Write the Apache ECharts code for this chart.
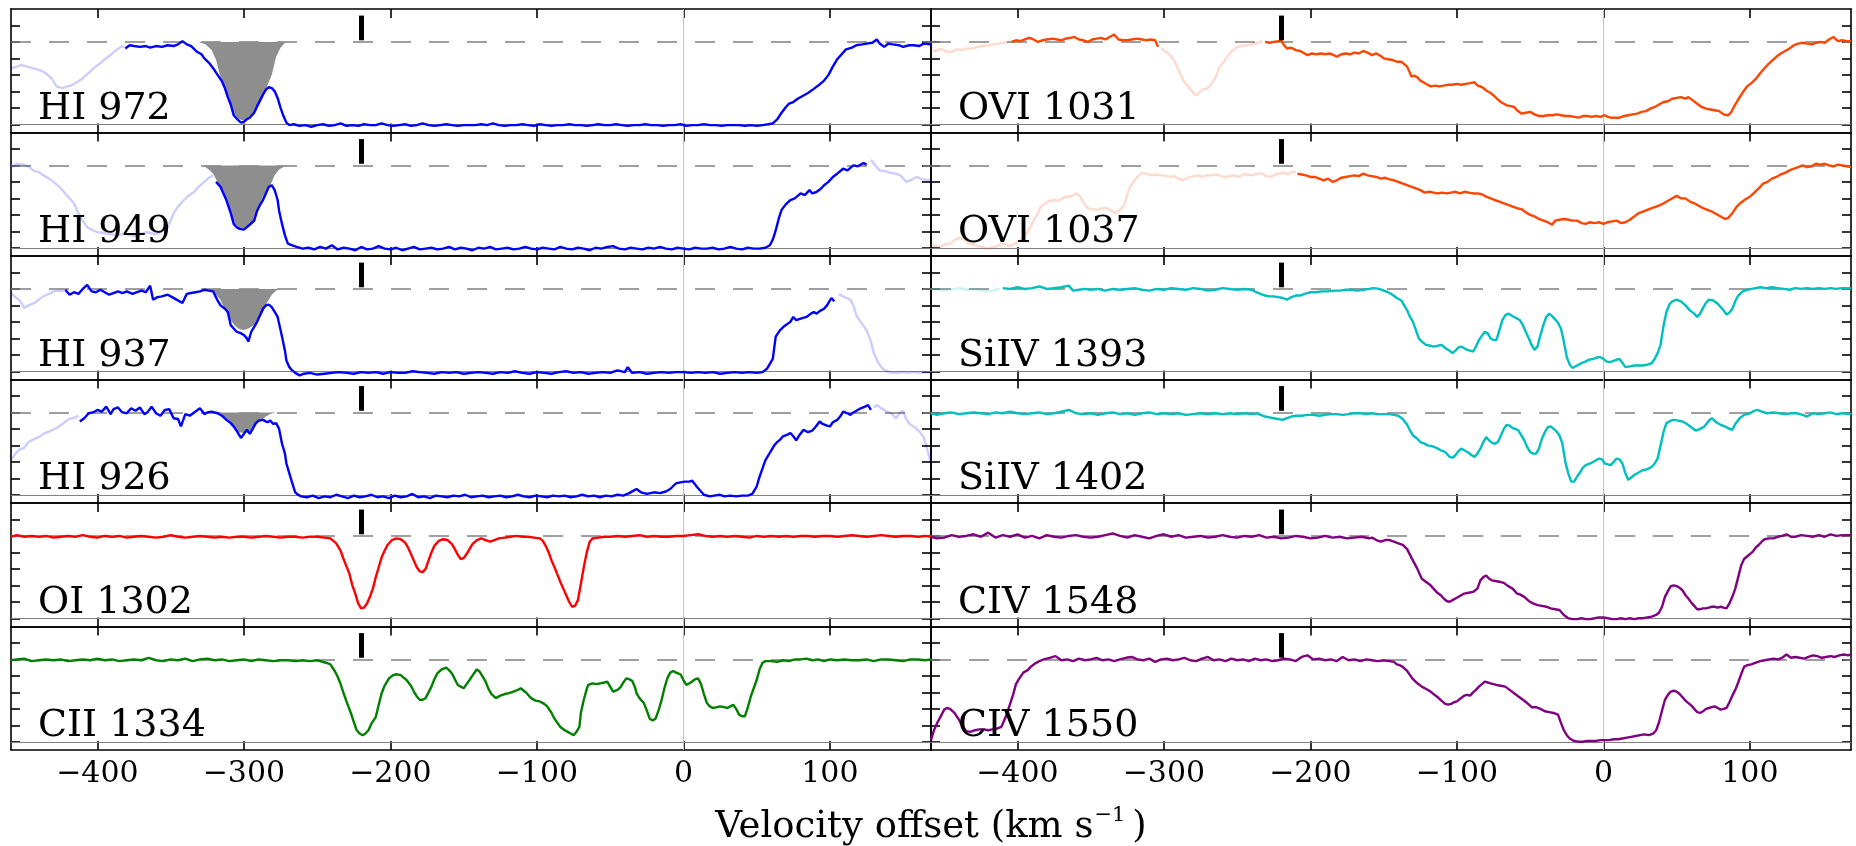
<!DOCTYPE html>
<html><head><meta charset="utf-8">
<script src="https://cdn.jsdelivr.net/npm/echarts@6/dist/echarts.min.js"></script>
<style>html,body{margin:0;padding:0;background:#fff}#c{width:1856px;height:846px}</style>
</head><body><div id="c"></div>
<script>
// ---------------- axis ranges & ticks ----------------
const XMIN = -459, XMAX = 169, YMIN = -0.1, YMAX = 1.4;
const XTICKS = [-400, -300, -200, -100, 0, 100];
const YTICKS = [0, 0.2, 0.4, 0.6, 0.8, 1.0, 1.2];
const MARKER_V = -220, MARKER_Y = [1.02, 1.32];
const XTITLE = ['Velocity offset (km s', '\u22121', ')'];
const LABELS = ['HI 972','HI 949','HI 937','HI 926','OI 1302','CII 1334','OVI 1031','OVI 1037','SiIV 1393','SiIV 1402','CIV 1548','CIV 1550'];

// ---------------- HI 972 ----------------
const HI972_F1 = [[-459,0.68],[-455,0.70],[-452,0.72],[-448,0.70],[-444,0.68],[-440,0.66],[-437,0.64],[-434,0.60],[-431,0.55],[-428,0.46],[-424,0.44],[-421,0.46],[-418,0.47],[-414,0.51],[-410,0.56],[-405,0.64],[-402,0.69],[-398,0.74],[-395,0.79],[-391,0.84],[-388,0.89],[-384,0.94],[-382,0.95]];
const HI972_S1 = [[-381,0.92],[-378,0.96],[-375,0.95],[-371,0.94],[-367,0.95],[-364,0.93],[-360,0.95],[-356,0.94],[-352,0.96],[-348,0.95],[-345,0.97],[-342,1.01],[-339,0.97],[-336,0.95],[-332,0.88],[-329,0.85],[-327,0.80],[-324,0.75],[-321,0.68],[-318,0.60],[-315,0.52],[-313,0.44],[-311,0.33],[-309,0.24],[-307,0.11],[-305,0.07],[-302,0.02],[-300,0.03],[-298,0.06],[-296,0.08],[-293,0.14],[-291,0.22],[-289,0.29],[-287,0.36],[-285,0.42],[-283,0.45],[-281,0.44],[-279,0.40],[-277,0.32],[-275,0.20],[-273,0.10],[-271,0.02],[-269,-0.01],[-266,0.00],[-262,-0.02],[-258,-0.01],[-254,-0.03],[-250,-0.01],[-246,0.00],[-242,-0.02],[-238,-0.01],[-234,0.01],[-230,-0.02],[-226,-0.01],[-222,-0.02],[-218,0.00],[-214,-0.01],[-210,-0.01],[-206,0.01],[-202,-0.01],[-198,-0.02],[-194,-0.01],[-190,0.00],[-186,-0.02],[-182,-0.01],[-178,0.01],[-174,-0.01],[-170,-0.02],[-166,-0.01],[-162,0.00],[-158,-0.01],[-154,-0.02],[-150,-0.01],[-146,-0.01],[-142,-0.01],[-138,0.00],[-134,-0.01],[-130,0.01],[-126,-0.01],[-122,-0.02],[-118,-0.01],[-114,-0.01],[-110,0.00],[-106,-0.01],[-102,-0.02],[-98,0.00],[-94,-0.01],[-90,-0.02],[-86,-0.01],[-82,-0.01],[-78,0.00],[-74,-0.01],[-70,-0.01],[-66,-0.02],[-62,-0.01],[-58,0.00],[-54,-0.01],[-50,-0.01],[-46,0.00],[-42,-0.01],[-38,-0.02],[-34,-0.01],[-30,-0.01],[-26,0.00],[-22,-0.01],[-18,-0.01],[-14,-0.02],[-10,-0.01],[-6,-0.01],[-2,0.00],[2,-0.02],[6,-0.01],[10,-0.01],[14,0.00],[18,-0.01],[22,-0.01],[26,-0.02],[30,-0.01],[34,-0.01],[38,-0.01],[42,-0.02],[46,-0.01],[50,-0.02],[54,-0.01],[58,0.00],[61,0.01],[64,0.06],[67,0.14],[70,0.21],[72,0.25],[75,0.27],[78,0.31],[82,0.35],[85,0.38],[89,0.43],[92,0.47],[96,0.53],[99,0.60],[102,0.70],[105,0.79],[108,0.85],[111,0.91],[115,0.93],[118,0.96],[122,0.97],[125,0.98],[129,0.99],[132,1.03],[134,0.98],[137,0.94],[140,0.98],[143,0.97],[147,0.96],[150,0.94],[154,0.96],[157,0.96],[161,0.95],[164,0.98],[169,0.97]];
const HI972_FILL = [[-331,1.0],[-326,0.97],[-322,0.90],[-319,0.78],[-316,0.57],[-313,0.40],[-310,0.25],[-307,0.13],[-304,0.07],[-300,0.04],[-297,0.06],[-294,0.10],[-290,0.22],[-287,0.33],[-284,0.47],[-281,0.60],[-278,0.82],[-275,0.93],[-272,0.99],[-270,1.0]];

// ---------------- HI 949 ----------------
const HI949_F1 = [[-459,0.98],[-455,1.02],[-451,1.01],[-447,0.99],[-444,0.94],[-440,0.92],[-437,0.88],[-433,0.84],[-430,0.80],[-426,0.74],[-423,0.68],[-420,0.62],[-416,0.54],[-412,0.38],[-409,0.30],[-407,0.25],[-403,0.21],[-400,0.19],[-396,0.18],[-393,0.17],[-389,0.16],[-386,0.15],[-382,0.17],[-379,0.16],[-375,0.14],[-372,0.15],[-369,0.18],[-366,0.19],[-362,0.17],[-359,0.17],[-355,0.21],[-352,0.25],[-348,0.42],[-345,0.50],[-341,0.58],[-338,0.63],[-334,0.68],[-331,0.74],[-327,0.80],[-324,0.85],[-321,0.88]];
const HI949_S1 = [[-319,0.80],[-316,0.74],[-314,0.66],[-312,0.58],[-309,0.42],[-307,0.29],[-305,0.25],[-303,0.23],[-300,0.22],[-298,0.25],[-296,0.28],[-293,0.33],[-291,0.45],[-289,0.52],[-287,0.58],[-285,0.66],[-283,0.74],[-281,0.76],[-279,0.70],[-277,0.58],[-276,0.45],[-274,0.29],[-272,0.15],[-270,0.05],[-267,0.03],[-264,0.01],[-260,-0.01],[-256,0.00],[-252,-0.02],[-248,0.01],[-244,-0.01],[-240,0.03],[-236,-0.02],[-232,0.00],[-228,-0.01],[-224,-0.03],[-220,0.01],[-216,-0.02],[-212,-0.01],[-208,0.02],[-204,-0.01],[-200,-0.02],[-196,0.00],[-192,-0.03],[-188,-0.01],[-184,0.01],[-180,-0.02],[-176,-0.01],[-172,0.00],[-168,-0.02],[-164,-0.01],[-160,0.01],[-156,-0.02],[-152,0.00],[-148,-0.01],[-144,-0.03],[-140,0.00],[-136,-0.01],[-132,0.01],[-128,-0.02],[-124,-0.01],[-120,0.00],[-116,-0.02],[-112,-0.01],[-108,0.01],[-104,-0.01],[-100,-0.02],[-96,0.00],[-92,-0.01],[-88,-0.02],[-84,0.01],[-80,-0.01],[-76,-0.02],[-72,0.00],[-68,-0.01],[-64,-0.03],[-60,0.00],[-56,-0.01],[-52,0.01],[-48,0.02],[-44,-0.01],[-40,-0.02],[-36,0.00],[-32,-0.01],[-28,-0.02],[-24,0.00],[-20,-0.01],[-16,0.01],[-12,-0.01],[-8,-0.02],[-4,0.00],[0,-0.01],[4,-0.02],[8,0.00],[12,-0.01],[16,-0.01],[20,0.00],[24,-0.02],[28,-0.01],[32,0.01],[36,-0.01],[40,-0.02],[44,0.00],[48,-0.01],[52,-0.01],[56,0.00],[59,0.03],[61,0.10],[63,0.21],[65,0.35],[67,0.46],[70,0.53],[73,0.58],[76,0.60],[80,0.66],[83,0.64],[86,0.70],[88,0.66],[91,0.68],[94,0.72],[96,0.76],[99,0.80],[102,0.86],[105,0.90],[109,0.96],[112,0.94],[116,1.00],[119,0.99],[123,1.03],[125,1.01]];
const HI949_F2 = [[128,1.07],[131,1.00],[134,0.94],[138,0.93],[141,0.91],[145,0.90],[148,0.88],[152,0.80],[155,0.82],[159,0.86],[162,0.84],[166,0.82],[169,0.83]];
const HI949_FILL = [[-328,1.0],[-324,0.95],[-321,0.90],[-318,0.80],[-316,0.74],[-313,0.62],[-311,0.50],[-308,0.38],[-306,0.29],[-303,0.24],[-300,0.23],[-297,0.26],[-294,0.29],[-291,0.40],[-290,0.50],[-287,0.62],[-284,0.70],[-281,0.80],[-279,0.88],[-276,0.95],[-273,0.98],[-271,1.0]];

// ---------------- HI 937 ----------------
const HI937_F1 = [[-459,0.95],[-456,0.90],[-453,0.86],[-450,0.77],[-447,0.80],[-443,0.83],[-440,0.87],[-437,0.91],[-434,0.93],[-430,0.97],[-426,0.98],[-423,0.97]];
const HI937_S1 = [[-422,0.99],[-419,0.93],[-416,0.96],[-413,0.94],[-410,1.00],[-407,1.05],[-404,0.97],[-401,0.96],[-398,0.99],[-395,0.96],[-392,0.93],[-389,0.95],[-386,0.97],[-383,0.95],[-380,0.97],[-376,0.94],[-373,0.96],[-370,0.98],[-367,0.96],[-364,1.04],[-362,0.87],[-359,0.90],[-356,0.91],[-352,0.93],[-349,0.90],[-346,0.87],[-342,0.83],[-339,0.94],[-336,0.95],[-333,0.96],[-330,0.97],[-327,0.99],[-324,0.98],[-321,0.97],[-318,0.86],[-316,0.80],[-313,0.76],[-311,0.72],[-309,0.56],[-307,0.52],[-305,0.48],[-302,0.46],[-300,0.44],[-298,0.40],[-297,0.36],[-295,0.48],[-293,0.54],[-291,0.60],[-289,0.68],[-287,0.76],[-285,0.80],[-283,0.81],[-281,0.78],[-279,0.72],[-277,0.66],[-275,0.50],[-274,0.42],[-272,0.25],[-271,0.13],[-269,0.05],[-267,0.01],[-265,-0.02],[-262,-0.05],[-259,-0.03],[-255,-0.02],[-250,-0.04],[-245,-0.03],[-240,-0.02],[-235,-0.01],[-230,-0.02],[-225,-0.03],[-220,-0.01],[-215,-0.02],[-210,-0.01],[-205,-0.03],[-200,-0.01],[-195,-0.02],[-190,-0.02],[-185,0.00],[-180,-0.01],[-175,-0.02],[-170,-0.03],[-165,-0.01],[-160,-0.02],[-155,-0.01],[-150,-0.03],[-145,-0.02],[-140,-0.01],[-135,-0.02],[-130,-0.03],[-125,-0.01],[-120,-0.02],[-115,0.00],[-110,-0.02],[-105,-0.03],[-100,-0.01],[-95,-0.02],[-90,-0.03],[-85,-0.01],[-80,0.00],[-75,-0.02],[-70,-0.01],[-65,-0.03],[-60,-0.02],[-55,-0.01],[-50,-0.02],[-45,0.01],[-40,-0.01],[-38,0.05],[-35,-0.02],[-30,-0.01],[-25,-0.03],[-20,-0.02],[-15,-0.01],[-10,-0.02],[-5,-0.01],[0,-0.01],[5,-0.02],[10,-0.01],[15,-0.02],[20,-0.01],[25,-0.03],[30,-0.02],[35,-0.01],[40,-0.02],[45,-0.01],[50,-0.02],[54,-0.01],[57,0.03],[59,0.09],[61,0.15],[63,0.42],[66,0.50],[69,0.55],[73,0.60],[75,0.66],[77,0.62],[80,0.64],[84,0.66],[87,0.70],[89,0.72],[91,0.70],[93,0.73],[96,0.76],[98,0.80],[101,0.89],[103,0.85]];
const HI937_F2 = [[106,0.93],[108,0.92],[111,0.89],[114,0.87],[116,0.80],[118,0.68],[121,0.60],[125,0.50],[128,0.36],[130,0.22],[133,0.10],[136,0.03],[140,-0.01],[143,-0.02],[147,-0.02],[150,-0.01],[154,-0.02],[157,-0.01],[161,-0.02],[165,-0.01],[169,-0.02]];
const HI937_FILL = [[-326,1.0],[-322,0.97],[-319,0.93],[-316,0.87],[-313,0.75],[-309,0.62],[-306,0.55],[-303,0.51],[-300,0.50],[-297,0.52],[-294,0.55],[-290,0.62],[-287,0.72],[-284,0.84],[-281,0.93],[-278,0.98],[-275,1.0]];

// ---------------- HI 926 ----------------
const HI926_F1 = [[-459,0.42],[-456,0.50],[-453,0.55],[-450,0.57],[-447,0.64],[-444,0.67],[-440,0.70],[-437,0.74],[-434,0.76],[-430,0.79],[-427,0.82],[-424,0.86],[-421,0.90],[-418,0.93],[-415,0.94],[-413,0.96]];
const HI926_S1 = [[-412,0.89],[-409,0.93],[-406,0.99],[-403,1.00],[-400,1.03],[-397,1.01],[-394,1.07],[-391,0.98],[-389,1.04],[-386,1.06],[-383,1.00],[-380,0.99],[-377,1.05],[-374,1.02],[-371,1.06],[-368,0.98],[-366,1.00],[-363,1.07],[-360,0.99],[-357,0.96],[-354,1.03],[-351,1.04],[-348,0.93],[-345,0.92],[-343,0.83],[-340,0.98],[-337,0.96],[-334,1.00],[-330,1.05],[-327,0.98],[-325,1.00],[-322,1.01],[-318,0.99],[-315,0.96],[-312,0.91],[-309,0.87],[-307,0.83],[-304,0.75],[-302,0.69],[-300,0.74],[-298,0.79],[-296,0.74],[-294,0.80],[-292,0.87],[-290,0.90],[-287,0.91],[-284,0.88],[-282,0.90],[-280,0.86],[-278,0.87],[-276,0.80],[-274,0.62],[-272,0.50],[-271,0.38],[-269,0.26],[-267,0.14],[-265,0.03],[-263,0.00],[-261,-0.02],[-257,-0.03],[-253,-0.01],[-249,-0.04],[-245,-0.02],[-241,-0.03],[-237,0.00],[-233,-0.02],[-229,-0.04],[-225,-0.01],[-221,-0.03],[-217,-0.02],[-213,0.00],[-209,-0.03],[-205,-0.02],[-201,-0.04],[-197,-0.01],[-193,-0.03],[-189,-0.02],[-185,0.01],[-181,-0.03],[-177,-0.02],[-173,-0.04],[-169,-0.01],[-165,-0.02],[-161,-0.03],[-157,-0.01],[-153,-0.02],[-149,0.00],[-145,-0.03],[-141,-0.02],[-137,-0.01],[-133,-0.03],[-129,-0.02],[-125,-0.01],[-121,-0.03],[-117,-0.02],[-113,0.00],[-109,-0.02],[-105,-0.03],[-101,-0.01],[-97,-0.02],[-93,-0.03],[-89,-0.01],[-85,-0.02],[-81,-0.01],[-77,-0.03],[-73,-0.02],[-69,0.00],[-65,-0.02],[-61,-0.01],[-57,-0.03],[-53,-0.01],[-49,-0.02],[-45,0.00],[-41,-0.01],[-37,0.02],[-34,0.05],[-32,0.07],[-29,0.03],[-25,0.01],[-20,0.03],[-16,0.02],[-12,0.04],[-9,0.07],[-5,0.14],[-2,0.15],[1,0.16],[4,0.16],[6,0.17],[9,0.10],[12,0.04],[14,0.00],[18,-0.02],[21,-0.01],[25,0.00],[28,-0.02],[32,-0.01],[36,-0.02],[40,-0.01],[44,-0.01],[47,0.01],[50,0.10],[52,0.22],[54,0.32],[56,0.42],[58,0.48],[60,0.54],[62,0.60],[64,0.64],[66,0.67],[68,0.71],[71,0.73],[73,0.75],[75,0.71],[77,0.66],[79,0.72],[82,0.79],[85,0.76],[88,0.78],[90,0.82],[93,0.89],[95,0.86],[98,0.84],[100,0.83],[102,0.88],[105,0.91],[107,0.95],[109,1.01],[112,0.99],[114,0.97],[116,1.00],[119,1.03],[121,1.05],[124,1.07],[126,1.09],[128,1.03]];
const HI926_F2 = [[130,1.06],[132,1.09],[135,1.05],[139,1.01],[142,0.99],[145,0.93],[148,1.00],[150,1.02],[152,0.92],[155,0.85],[158,0.82],[161,0.77],[164,0.70],[166,0.58],[169,0.38]];
const HI926_FILL = [[-322,1.0],[-318,0.98],[-315,0.95],[-312,0.91],[-309,0.85],[-306,0.80],[-303,0.76],[-300,0.75],[-297,0.76],[-294,0.80],[-291,0.86],[-288,0.91],[-285,0.95],[-282,0.98],[-278,1.0]];

// ---------------- OI 1302 ----------------
const OI1302 = [[-459,0.99],[-455,1.01],[-450,0.99],[-445,1.00],[-440,0.99],[-435,1.00],[-430,0.98],[-425,0.99],[-420,1.00],[-415,0.99],[-410,1.01],[-405,0.99],[-400,0.98],[-395,1.00],[-390,0.99],[-385,1.00],[-380,0.98],[-375,0.99],[-370,1.00],[-365,0.99],[-360,0.98],[-355,0.99],[-350,1.01],[-345,0.99],[-340,0.98],[-335,0.99],[-330,1.00],[-325,0.99],[-320,0.98],[-315,0.99],[-310,0.98],[-305,0.99],[-300,0.99],[-295,0.98],[-290,0.99],[-285,1.00],[-280,0.99],[-275,0.98],[-270,0.99],[-265,0.99],[-260,0.98],[-255,0.99],[-250,0.99],[-245,0.98],[-241,0.97],[-237,0.91],[-234,0.82],[-232,0.72],[-230,0.63],[-228,0.54],[-226,0.40],[-224,0.30],[-222,0.18],[-220,0.12],[-218,0.13],[-216,0.18],[-214,0.26],[-212,0.36],[-210,0.50],[-208,0.62],[-206,0.74],[-204,0.82],[-202,0.89],[-199,0.95],[-196,0.97],[-193,0.96],[-190,0.92],[-188,0.86],[-186,0.78],[-184,0.70],[-182,0.62],[-180,0.57],[-178,0.56],[-176,0.60],[-174,0.70],[-172,0.80],[-170,0.88],[-167,0.94],[-164,0.96],[-161,0.95],[-158,0.90],[-156,0.84],[-154,0.77],[-152,0.72],[-150,0.73],[-148,0.78],[-146,0.84],[-144,0.90],[-141,0.95],[-138,0.97],[-135,0.95],[-132,0.93],[-129,0.95],[-126,0.97],[-122,0.98],[-118,0.99],[-114,1.00],[-110,0.99],[-106,0.99],[-102,0.98],[-98,0.97],[-96,0.94],[-94,0.88],[-92,0.80],[-90,0.70],[-88,0.62],[-86,0.53],[-84,0.44],[-82,0.36],[-80,0.28],[-78,0.20],[-76,0.14],[-74,0.15],[-72,0.22],[-70,0.42],[-68,0.62],[-66,0.80],[-64,0.93],[-62,0.97],[-58,0.98],[-54,0.99],[-50,0.99],[-45,1.00],[-40,0.99],[-35,1.00],[-30,1.01],[-25,0.99],[-20,1.00],[-15,0.99],[-10,0.99],[-5,1.00],[0,1.00],[5,1.01],[10,1.02],[15,1.00],[20,0.99],[25,1.00],[30,0.99],[35,1.00],[40,0.99],[45,0.98],[50,1.00],[55,0.99],[60,1.00],[65,0.99],[70,1.00],[75,0.99],[80,1.00],[85,1.00],[90,0.99],[95,1.00],[100,1.00],[105,0.99],[110,1.00],[115,1.01],[120,1.00],[125,0.99],[130,1.00],[135,1.01],[140,1.00],[145,0.99],[150,1.00],[155,1.00],[160,0.99],[165,1.00],[169,0.99]];

// ---------------- CII 1334 ----------------
const CII1334 = [[-459,0.99],[-455,1.00],[-450,1.01],[-445,0.98],[-440,0.99],[-435,1.00],[-430,0.99],[-425,1.00],[-420,0.98],[-415,0.99],[-410,1.00],[-405,0.99],[-400,1.01],[-395,0.99],[-390,1.00],[-385,0.98],[-380,0.99],[-375,1.00],[-370,0.99],[-365,1.02],[-360,0.99],[-355,0.98],[-350,1.00],[-345,0.99],[-340,1.01],[-335,0.98],[-330,1.00],[-325,1.01],[-320,0.99],[-315,1.00],[-310,0.98],[-305,0.99],[-300,1.00],[-295,0.98],[-290,1.00],[-285,0.99],[-280,0.98],[-275,0.99],[-270,0.99],[-265,0.98],[-260,0.99],[-255,0.98],[-250,0.99],[-248,0.98],[-244,0.96],[-241,0.94],[-238,0.86],[-236,0.79],[-234,0.70],[-232,0.59],[-230,0.49],[-227,0.35],[-225,0.24],[-223,0.14],[-221,0.10],[-219,0.08],[-217,0.10],[-215,0.14],[-213,0.22],[-210,0.30],[-208,0.45],[-206,0.59],[-204,0.68],[-201,0.77],[-198,0.81],[-196,0.82],[-193,0.81],[-191,0.78],[-189,0.75],[-186,0.68],[-184,0.61],[-182,0.55],[-180,0.51],[-178,0.51],[-176,0.53],[-174,0.60],[-172,0.67],[-170,0.76],[-168,0.83],[-165,0.88],[-162,0.90],[-160,0.87],[-158,0.83],[-156,0.76],[-154,0.69],[-152,0.67],[-150,0.65],[-148,0.70],[-146,0.75],[-143,0.83],[-141,0.88],[-139,0.85],[-137,0.79],[-135,0.73],[-133,0.64],[-131,0.58],[-128,0.53],[-125,0.56],[-122,0.58],[-119,0.59],[-116,0.61],[-113,0.63],[-111,0.65],[-109,0.62],[-107,0.59],[-104,0.53],[-101,0.50],[-98,0.49],[-95,0.46],[-93,0.43],[-90,0.35],[-88,0.28],[-86,0.23],[-84,0.18],[-81,0.14],[-79,0.12],[-77,0.10],[-75,0.08],[-73,0.12],[-71,0.18],[-70,0.35],[-68,0.51],[-66,0.64],[-65,0.69],[-62,0.71],[-59,0.70],[-57,0.71],[-54,0.72],[-52,0.73],[-50,0.67],[-48,0.61],[-45,0.63],[-43,0.66],[-41,0.72],[-39,0.77],[-37,0.76],[-35,0.74],[-33,0.66],[-32,0.59],[-30,0.53],[-27,0.47],[-25,0.38],[-23,0.28],[-21,0.26],[-19,0.28],[-17,0.38],[-15,0.50],[-13,0.65],[-11,0.77],[-9,0.84],[-7,0.86],[-5,0.84],[-2,0.82],[0,0.75],[2,0.69],[5,0.72],[8,0.76],[10,0.77],[12,0.70],[14,0.58],[16,0.47],[18,0.43],[20,0.41],[23,0.42],[25,0.43],[28,0.42],[30,0.41],[32,0.43],[34,0.45],[36,0.40],[38,0.33],[40,0.31],[42,0.31],[44,0.42],[46,0.55],[48,0.65],[50,0.75],[52,0.88],[54,0.96],[56,0.98],[60,0.98],[64,0.97],[68,0.99],[72,0.98],[76,1.00],[80,1.00],[84,1.01],[88,0.99],[92,1.00],[96,0.98],[100,1.00],[105,0.99],[110,1.00],[115,0.99],[120,0.99],[125,1.00],[130,0.98],[135,1.00],[140,1.00],[145,0.99],[150,0.98],[155,1.00],[160,1.00],[165,0.99],[169,1.00]];

// ---------------- OVI 1031 ----------------
const OVI1031_F1 = [[-459,0.90],[-456,0.89],[-452,0.92],[-449,0.88],[-445,0.88],[-441,0.91],[-438,0.90],[-434,0.92],[-431,0.92],[-427,0.94],[-424,0.95],[-420,0.96],[-417,0.97],[-413,0.98],[-410,0.99],[-406,1.00]];
const OVI1031_S1 = [[-404,1.00],[-401,1.02],[-398,1.01],[-395,1.03],[-392,1.05],[-389,1.03],[-386,1.00],[-383,1.02],[-380,1.03],[-376,1.04],[-373,1.03],[-370,1.02],[-367,1.04],[-364,1.05],[-361,1.06],[-358,1.03],[-355,1.02],[-352,1.00],[-349,1.03],[-346,1.04],[-343,1.05],[-340,1.03],[-337,1.06],[-334,1.09],[-331,1.03],[-328,1.02],[-325,1.02],[-322,1.03],[-318,1.04],[-315,1.03],[-312,1.02],[-309,1.03],[-306,1.02],[-304,0.94]];
const OVI1031_F2 = [[-302,0.92],[-300,0.90],[-297,0.86],[-295,0.82],[-293,0.77],[-291,0.70],[-289,0.62],[-287,0.54],[-284,0.47],[-282,0.43],[-280,0.38],[-278,0.35],[-276,0.38],[-274,0.42],[-271,0.43],[-269,0.46],[-266,0.53],[-264,0.60],[-262,0.70],[-259,0.76],[-257,0.82],[-254,0.88],[-250,0.94],[-247,0.95],[-243,0.96],[-240,0.97],[-236,0.99],[-233,1.01]];
const OVI1031_S2 = [[-231,1.00],[-228,0.99],[-225,1.00],[-222,1.01],[-220,1.02],[-218,0.96],[-216,0.92],[-213,0.93],[-210,0.90],[-207,0.89],[-204,0.86],[-202,0.84],[-199,0.86],[-196,0.85],[-193,0.86],[-190,0.85],[-187,0.86],[-184,0.84],[-182,0.82],[-179,0.85],[-176,0.86],[-173,0.85],[-170,0.87],[-167,0.86],[-164,0.89],[-161,0.87],[-158,0.84],[-155,0.86],[-152,0.83],[-150,0.80],[-147,0.79],[-144,0.78],[-141,0.76],[-138,0.76],[-136,0.73],[-134,0.70],[-131,0.58],[-129,0.59],[-127,0.57],[-125,0.53],[-123,0.51],[-120,0.48],[-118,0.46],[-115,0.47],[-112,0.46],[-109,0.47],[-106,0.48],[-103,0.48],[-100,0.49],[-97,0.48],[-94,0.49],[-91,0.50],[-88,0.51],[-86,0.47],[-84,0.46],[-82,0.44],[-80,0.41],[-77,0.38],[-75,0.35],[-72,0.30],[-70,0.27],[-68,0.25],[-66,0.23],[-63,0.22],[-61,0.21],[-59,0.17],[-56,0.13],[-53,0.14],[-50,0.15],[-47,0.12],[-44,0.10],[-41,0.10],[-38,0.11],[-35,0.11],[-32,0.12],[-29,0.11],[-26,0.10],[-23,0.10],[-20,0.09],[-17,0.08],[-14,0.10],[-11,0.10],[-8,0.09],[-5,0.10],[-2,0.09],[1,0.11],[3,0.09],[5,0.08],[8,0.08],[11,0.08],[14,0.10],[17,0.11],[20,0.12],[23,0.13],[26,0.15],[29,0.16],[32,0.19],[35,0.21],[38,0.24],[41,0.27],[44,0.28],[47,0.31],[50,0.32],[53,0.33],[56,0.31],[58,0.33],[61,0.29],[64,0.25],[67,0.21],[70,0.19],[73,0.18],[76,0.17],[79,0.16],[82,0.12],[85,0.11],[87,0.14],[89,0.21],[91,0.27],[93,0.33],[96,0.41],[98,0.46],[101,0.50],[104,0.55],[107,0.62],[110,0.68],[112,0.72],[115,0.77],[118,0.82],[121,0.86],[124,0.89],[127,0.92],[130,0.96],[133,0.98],[136,0.99],[139,0.98],[142,0.97],[145,0.99],[148,1.00],[151,0.99],[154,1.03],[157,1.06],[160,1.01],[163,1.02],[166,1.01],[169,1.01]];

// ---------------- OVI 1037 ----------------
const OVI1037_F1 = [[-459,0.03],[-456,0.02],[-453,0.01],[-450,0.04],[-446,0.05],[-443,0.09],[-440,0.12],[-437,0.11],[-434,0.06],[-430,0.04],[-427,0.02],[-424,0.01],[-421,-0.01],[-418,0.00],[-414,0.02],[-411,0.05],[-408,0.04],[-405,0.02],[-402,0.05],[-399,0.08],[-396,0.12],[-394,0.17],[-391,0.25],[-389,0.33],[-386,0.42],[-384,0.50],[-381,0.54],[-378,0.57],[-375,0.58],[-372,0.57],[-369,0.60],[-366,0.62],[-363,0.63],[-360,0.66],[-357,0.62],[-355,0.55],[-352,0.48],[-349,0.47],[-346,0.46],[-342,0.48],[-339,0.48],[-336,0.45],[-333,0.42],[-330,0.46],[-327,0.52],[-325,0.65],[-323,0.74],[-320,0.82],[-318,0.86],[-315,0.91],[-312,0.90],[-309,0.88],[-306,0.89],[-303,0.88],[-300,0.88],[-296,0.86],[-293,0.87],[-290,0.84],[-287,0.82],[-284,0.85],[-280,0.87],[-277,0.88],[-274,0.86],[-271,0.88],[-268,0.88],[-264,0.89],[-261,0.87],[-258,0.86],[-255,0.87],[-252,0.88],[-249,0.86],[-246,0.89],[-243,0.89],[-240,0.88],[-236,0.90],[-233,0.90],[-230,0.87],[-227,0.86],[-224,0.89],[-221,0.90],[-218,0.91],[-215,0.89],[-212,0.93],[-210,0.91]];
const OVI1037_S1 = [[-209,0.90],[-206,0.89],[-203,0.88],[-200,0.86],[-197,0.86],[-194,0.84],[-191,0.82],[-188,0.84],[-185,0.80],[-182,0.82],[-179,0.85],[-176,0.86],[-173,0.87],[-170,0.88],[-167,0.87],[-164,0.90],[-161,0.88],[-158,0.87],[-155,0.86],[-152,0.84],[-149,0.85],[-146,0.83],[-143,0.82],[-140,0.80],[-137,0.78],[-134,0.76],[-131,0.74],[-128,0.72],[-125,0.70],[-122,0.67],[-119,0.68],[-116,0.67],[-113,0.66],[-110,0.67],[-107,0.66],[-104,0.67],[-101,0.68],[-98,0.66],[-95,0.68],[-92,0.67],[-89,0.66],[-86,0.66],[-83,0.65],[-80,0.62],[-77,0.60],[-74,0.58],[-71,0.56],[-68,0.54],[-65,0.52],[-62,0.50],[-59,0.48],[-56,0.47],[-53,0.43],[-50,0.40],[-47,0.38],[-44,0.35],[-41,0.33],[-38,0.31],[-35,0.28],[-33,0.33],[-30,0.34],[-27,0.35],[-24,0.34],[-21,0.33],[-18,0.33],[-15,0.30],[-12,0.29],[-9,0.31],[-6,0.30],[-3,0.31],[0,0.29],[3,0.31],[6,0.32],[9,0.33],[12,0.30],[15,0.31],[18,0.34],[21,0.38],[24,0.42],[27,0.44],[30,0.46],[33,0.48],[36,0.50],[39,0.52],[42,0.55],[45,0.58],[48,0.61],[50,0.63],[53,0.60],[56,0.60],[59,0.56],[62,0.54],[65,0.51],[68,0.48],[71,0.46],[74,0.44],[77,0.41],[80,0.38],[83,0.35],[85,0.36],[88,0.42],[91,0.50],[94,0.55],[97,0.59],[100,0.62],[103,0.67],[106,0.72],[109,0.78],[112,0.80],[115,0.84],[118,0.86],[121,0.89],[124,0.91],[127,0.94],[130,0.96],[133,0.98],[136,1.00],[139,0.98],[142,0.99],[145,1.02],[148,1.01],[151,1.02],[154,1.00],[157,0.99],[160,1.01],[163,1.00],[166,0.99],[169,0.98]];

// ---------------- SiIV 1393 ----------------
const SIIV1393_F1 = [[-459,0.99],[-455,1.00],[-451,0.98],[-447,0.99],[-443,1.00],[-439,1.01],[-435,0.99],[-431,1.00],[-427,0.99],[-423,0.98],[-419,0.97],[-415,0.99],[-412,1.00]];
const SIIV1393_S1 = [[-410,1.01],[-405,1.00],[-400,1.02],[-395,1.00],[-390,1.01],[-385,1.03],[-380,1.00],[-375,1.01],[-370,1.02],[-365,1.04],[-362,0.98],[-358,0.99],[-354,1.00],[-350,0.99],[-345,1.00],[-340,0.98],[-335,1.00],[-330,0.99],[-325,1.00],[-320,1.01],[-315,0.99],[-310,0.98],[-305,1.00],[-300,0.99],[-295,1.01],[-290,1.00],[-285,0.99],[-280,1.01],[-275,1.00],[-270,0.98],[-265,0.99],[-260,1.01],[-255,1.00],[-250,0.99],[-245,1.00],[-240,0.99],[-237,0.96],[-234,0.94],[-231,0.92],[-228,0.91],[-225,0.91],[-222,0.90],[-219,0.89],[-216,0.87],[-213,0.90],[-210,0.92],[-207,0.92],[-204,0.94],[-200,0.96],[-196,0.96],[-192,0.97],[-188,0.97],[-184,0.98],[-180,0.98],[-176,0.99],[-172,0.99],[-168,0.98],[-164,0.99],[-160,1.00],[-157,1.01],[-153,1.00],[-150,0.98],[-147,0.96],[-144,0.93],[-141,0.89],[-138,0.86],[-136,0.80],[-134,0.74],[-132,0.66],[-130,0.60],[-128,0.50],[-126,0.40],[-124,0.36],[-121,0.32],[-118,0.31],[-116,0.30],[-113,0.31],[-111,0.32],[-109,0.30],[-107,0.27],[-105,0.25],[-103,0.22],[-101,0.25],[-99,0.29],[-97,0.30],[-95,0.28],[-93,0.26],[-91,0.25],[-89,0.24],[-87,0.30],[-85,0.38],[-83,0.43],[-81,0.48],[-79,0.46],[-77,0.40],[-75,0.38],[-73,0.38],[-71,0.50],[-69,0.62],[-67,0.68],[-65,0.70],[-63,0.68],[-61,0.66],[-59,0.64],[-57,0.62],[-55,0.56],[-53,0.48],[-51,0.40],[-49,0.32],[-47,0.26],[-45,0.30],[-43,0.44],[-41,0.56],[-39,0.66],[-37,0.70],[-35,0.67],[-33,0.63],[-31,0.59],[-29,0.52],[-27,0.36],[-25,0.17],[-23,0.08],[-21,0.04],[-19,0.06],[-17,0.08],[-15,0.10],[-12,0.12],[-10,0.14],[-7,0.15],[-4,0.17],[-2,0.17],[0,0.15],[2,0.12],[4,0.11],[6,0.12],[9,0.14],[11,0.15],[13,0.10],[15,0.05],[18,0.06],[21,0.07],[24,0.07],[27,0.07],[30,0.08],[33,0.10],[35,0.15],[37,0.22],[39,0.32],[41,0.55],[43,0.72],[45,0.81],[47,0.85],[50,0.87],[53,0.85],[56,0.80],[59,0.74],[62,0.70],[64,0.66],[66,0.70],[68,0.77],[70,0.83],[72,0.87],[75,0.86],[78,0.82],[80,0.78],[82,0.74],[84,0.69],[86,0.71],[88,0.76],[90,0.85],[92,0.92],[95,0.97],[98,0.99],[101,1.00],[104,1.01],[107,1.02],[111,1.01],[115,1.02],[119,1.01],[123,1.00],[127,0.99],[131,1.01],[135,1.00],[139,1.01],[143,1.00],[147,1.01],[151,1.00],[155,1.01],[159,1.00],[163,1.01],[169,1.01]];

// ---------------- SiIV 1402 ----------------
const SIIV1402 = [[-459,0.99],[-455,0.97],[-450,0.99],[-445,1.00],[-440,0.98],[-435,0.99],[-430,1.00],[-425,0.99],[-420,0.98],[-415,1.00],[-410,0.99],[-405,1.01],[-400,0.99],[-395,0.98],[-390,0.99],[-385,1.00],[-380,0.98],[-375,0.99],[-370,1.01],[-365,1.03],[-360,0.99],[-355,0.98],[-350,0.99],[-345,0.97],[-340,0.99],[-335,1.00],[-330,0.98],[-325,0.99],[-320,0.97],[-315,0.99],[-310,1.00],[-305,0.98],[-300,0.99],[-295,0.98],[-290,0.99],[-285,0.97],[-280,0.98],[-275,0.99],[-270,0.98],[-265,0.99],[-260,0.98],[-255,0.99],[-250,0.98],[-245,0.99],[-240,0.98],[-236,0.99],[-234,0.97],[-231,0.95],[-228,0.94],[-225,0.93],[-222,0.92],[-219,0.91],[-216,0.93],[-213,0.95],[-210,0.96],[-206,0.96],[-202,0.97],[-198,0.97],[-194,0.96],[-190,0.97],[-186,0.98],[-182,0.98],[-178,0.97],[-174,0.98],[-170,0.99],[-166,0.99],[-162,0.98],[-158,0.99],[-154,0.98],[-150,0.98],[-146,0.98],[-143,0.97],[-140,0.96],[-137,0.92],[-134,0.85],[-132,0.78],[-130,0.72],[-127,0.68],[-125,0.64],[-122,0.62],[-120,0.60],[-117,0.59],[-114,0.57],[-111,0.54],[-108,0.52],[-105,0.46],[-103,0.45],[-101,0.48],[-99,0.53],[-97,0.56],[-95,0.54],[-92,0.51],[-90,0.48],[-88,0.46],[-86,0.50],[-84,0.56],[-82,0.64],[-80,0.70],[-78,0.66],[-76,0.63],[-74,0.62],[-72,0.64],[-70,0.72],[-68,0.80],[-66,0.85],[-64,0.84],[-62,0.81],[-60,0.80],[-58,0.78],[-56,0.72],[-54,0.66],[-52,0.58],[-50,0.52],[-48,0.50],[-46,0.50],[-44,0.56],[-42,0.68],[-40,0.76],[-38,0.82],[-36,0.83],[-34,0.80],[-32,0.77],[-30,0.72],[-28,0.62],[-26,0.40],[-24,0.26],[-22,0.16],[-20,0.16],[-18,0.22],[-16,0.27],[-14,0.33],[-12,0.36],[-9,0.38],[-6,0.41],[-3,0.44],[-1,0.43],[1,0.38],[3,0.37],[5,0.36],[7,0.40],[9,0.44],[11,0.43],[13,0.38],[15,0.26],[17,0.18],[19,0.21],[21,0.24],[24,0.27],[27,0.30],[30,0.31],[33,0.34],[35,0.38],[37,0.44],[39,0.60],[41,0.76],[43,0.87],[46,0.90],[48,0.91],[51,0.90],[54,0.89],[57,0.86],[60,0.82],[63,0.78],[66,0.80],[69,0.83],[72,0.90],[74,0.93],[77,0.88],[80,0.85],[83,0.83],[86,0.80],[88,0.79],[90,0.86],[93,0.93],[96,0.97],[100,0.99],[103,1.02],[105,1.03],[108,1.01],[112,0.99],[116,1.00],[120,0.99],[124,0.98],[128,0.99],[132,0.99],[136,0.97],[139,0.95],[143,0.99],[147,0.98],[151,0.99],[155,1.00],[159,0.98],[163,0.99],[169,0.98]];

// ---------------- CIV 1548 ----------------
const CIV1548 = [[-459,0.99],[-455,0.97],[-450,0.98],[-445,1.01],[-440,0.99],[-435,1.00],[-430,1.02],[-425,0.99],[-420,1.04],[-415,0.98],[-410,1.01],[-405,0.99],[-400,1.02],[-395,0.98],[-390,1.00],[-385,0.97],[-380,1.01],[-375,0.99],[-370,0.98],[-365,1.00],[-360,1.01],[-355,0.99],[-350,0.98],[-345,0.99],[-340,1.01],[-335,1.03],[-330,1.00],[-325,0.98],[-320,1.01],[-315,0.99],[-310,0.97],[-305,1.00],[-300,1.02],[-295,0.99],[-290,1.01],[-285,0.98],[-280,0.99],[-275,1.00],[-270,0.98],[-265,0.99],[-260,1.01],[-255,0.99],[-250,0.98],[-245,1.00],[-240,0.99],[-235,1.01],[-230,0.98],[-225,0.99],[-220,0.97],[-215,0.98],[-210,1.00],[-205,0.99],[-200,0.97],[-195,0.98],[-190,1.00],[-185,0.98],[-180,0.99],[-175,0.97],[-170,0.98],[-165,0.99],[-160,0.97],[-158,0.98],[-155,0.95],[-152,0.93],[-149,0.95],[-146,0.95],[-143,0.93],[-140,0.91],[-137,0.89],[-134,0.84],[-132,0.77],[-130,0.70],[-127,0.60],[-124,0.48],[-121,0.44],[-118,0.40],[-116,0.36],[-114,0.32],[-111,0.28],[-109,0.24],[-107,0.21],[-105,0.20],[-103,0.22],[-101,0.24],[-98,0.27],[-95,0.30],[-92,0.31],[-89,0.32],[-86,0.36],[-84,0.46],[-82,0.50],[-80,0.52],[-78,0.48],[-76,0.46],[-73,0.45],[-70,0.44],[-68,0.43],[-65,0.39],[-62,0.36],[-59,0.30],[-57,0.29],[-54,0.26],[-51,0.21],[-48,0.18],[-45,0.16],[-42,0.15],[-39,0.14],[-36,0.12],[-33,0.11],[-30,0.10],[-27,0.04],[-24,0.00],[-21,-0.01],[-18,-0.01],[-15,0.00],[-12,-0.01],[-9,-0.01],[-6,0.00],[-3,0.01],[0,0.01],[3,0.00],[6,-0.01],[9,-0.01],[12,0.00],[15,-0.01],[18,0.00],[21,-0.01],[24,0.00],[27,0.00],[30,0.01],[33,0.02],[36,0.04],[38,0.07],[40,0.14],[42,0.26],[44,0.33],[46,0.39],[48,0.40],[50,0.39],[52,0.37],[54,0.34],[56,0.28],[58,0.24],[60,0.19],[62,0.15],[64,0.11],[66,0.11],[68,0.12],[70,0.12],[72,0.13],[74,0.14],[76,0.14],[78,0.13],[80,0.14],[82,0.13],[84,0.12],[86,0.18],[88,0.26],[90,0.36],[92,0.50],[94,0.64],[96,0.72],[98,0.75],[100,0.78],[102,0.81],[104,0.86],[106,0.89],[108,0.93],[110,0.96],[113,0.97],[116,0.97],[119,0.99],[122,1.00],[125,1.02],[128,0.99],[131,0.99],[135,1.01],[139,1.00],[143,0.99],[147,1.01],[151,0.99],[155,1.02],[159,1.00],[163,1.01],[169,1.01]];

// ---------------- CIV 1550 ----------------
const CIV1550 = [[-459,0.02],[-457,0.14],[-455,0.22],[-452,0.32],[-450,0.39],[-448,0.41],[-446,0.40],[-443,0.35],[-440,0.27],[-438,0.20],[-435,0.13],[-432,0.12],[-429,0.14],[-426,0.15],[-423,0.15],[-420,0.14],[-417,0.15],[-414,0.16],[-411,0.18],[-409,0.26],[-407,0.35],[-405,0.46],[-403,0.57],[-401,0.70],[-399,0.76],[-396,0.84],[-393,0.87],[-391,0.91],[-388,0.95],[-385,0.98],[-382,1.00],[-378,1.02],[-374,1.04],[-370,0.99],[-366,1.00],[-362,0.98],[-358,1.01],[-354,0.99],[-350,1.00],[-346,1.02],[-342,0.99],[-338,1.00],[-334,0.98],[-330,1.00],[-326,1.02],[-322,1.03],[-318,1.00],[-314,0.99],[-310,1.01],[-306,0.97],[-302,1.00],[-298,1.01],[-294,0.99],[-290,1.00],[-286,1.02],[-282,0.99],[-278,0.98],[-274,1.01],[-270,1.03],[-266,0.99],[-262,1.00],[-258,0.98],[-254,1.01],[-250,0.99],[-246,1.00],[-242,0.98],[-238,1.01],[-234,0.99],[-230,1.00],[-226,0.98],[-222,0.99],[-218,1.01],[-214,1.00],[-210,0.98],[-206,1.03],[-202,1.05],[-198,1.00],[-194,1.01],[-190,0.99],[-186,1.00],[-182,0.98],[-178,1.03],[-174,0.99],[-170,1.00],[-166,0.98],[-162,1.00],[-158,0.99],[-154,0.98],[-150,0.99],[-146,0.98],[-143,0.97],[-141,0.94],[-139,0.93],[-137,0.91],[-134,0.86],[-132,0.81],[-130,0.76],[-127,0.71],[-124,0.67],[-121,0.64],[-118,0.61],[-116,0.58],[-113,0.54],[-110,0.49],[-108,0.46],[-106,0.45],[-104,0.46],[-102,0.48],[-100,0.49],[-98,0.52],[-95,0.56],[-93,0.57],[-91,0.56],[-89,0.60],[-87,0.63],[-85,0.67],[-83,0.70],[-81,0.73],[-79,0.72],[-77,0.71],[-75,0.70],[-73,0.69],[-70,0.68],[-67,0.67],[-64,0.63],[-61,0.59],[-58,0.55],[-55,0.51],[-52,0.47],[-49,0.42],[-46,0.42],[-43,0.40],[-40,0.37],[-37,0.36],[-34,0.35],[-31,0.33],[-29,0.23],[-27,0.14],[-25,0.08],[-23,0.04],[-20,0.01],[-17,0.00],[-14,0.00],[-11,0.01],[-8,0.01],[-5,0.01],[-2,0.02],[1,0.02],[4,0.02],[7,0.03],[10,0.03],[13,0.04],[16,0.05],[19,0.06],[22,0.07],[25,0.08],[28,0.09],[31,0.08],[34,0.10],[36,0.14],[38,0.24],[40,0.38],[42,0.51],[44,0.57],[46,0.61],[48,0.62],[50,0.61],[52,0.58],[54,0.54],[56,0.50],[58,0.47],[60,0.44],[62,0.40],[64,0.36],[66,0.35],[68,0.37],[70,0.40],[72,0.41],[74,0.42],[76,0.43],[78,0.41],[80,0.39],[82,0.40],[84,0.41],[86,0.48],[88,0.56],[90,0.63],[92,0.72],[94,0.82],[96,0.91],[98,0.93],[101,0.94],[104,0.96],[107,0.98],[110,0.99],[113,1.00],[116,1.01],[119,1.00],[122,1.02],[125,1.06],[128,1.02],[131,1.03],[134,1.02],[137,1.01],[140,1.03],[143,1.05],[146,1.04],[149,1.02],[152,1.03],[155,1.04],[158,1.03],[161,1.05],[164,1.06],[167,1.05],[169,1.06]];

// ---------------- styling ----------------
const C_BLUE = '#0000ff', C_BLUE_F = 'rgba(0,0,255,0.2)';
const C_ORANGE = '#ff4500', C_ORANGE_F = 'rgba(255,69,0,0.2)';
const C_CYAN = '#00bfbf', C_CYAN_F = 'rgba(0,191,191,0.2)';
const C_RED = '#ff0000', C_GREEN = '#008000', C_PURPLE = '#800080';
const FILL_GRAY = '#8e8e8e';
const SERIF = '"DejaVu Serif", "Liberation Serif", serif';
const LINE_W = 2.4;

// panel table built from the named arrays (order: left column top->bottom, then right column)
const PANELS = [
  {segs: [[HI972_F1, C_BLUE_F], [HI972_S1, C_BLUE]], fill: HI972_FILL},
  {segs: [[HI949_F1, C_BLUE_F], [HI949_S1, C_BLUE], [HI949_F2, C_BLUE_F]], fill: HI949_FILL},
  {segs: [[HI937_F1, C_BLUE_F], [HI937_S1, C_BLUE], [HI937_F2, C_BLUE_F]], fill: HI937_FILL},
  {segs: [[HI926_F1, C_BLUE_F], [HI926_S1, C_BLUE], [HI926_F2, C_BLUE_F]], fill: HI926_FILL},
  {segs: [[OI1302, C_RED]]},
  {segs: [[CII1334, C_GREEN]]},
  {segs: [[OVI1031_F1, C_ORANGE_F], [OVI1031_S1, C_ORANGE], [OVI1031_F2, C_ORANGE_F], [OVI1031_S2, C_ORANGE]]},
  {segs: [[OVI1037_F1, C_ORANGE_F], [OVI1037_S1, C_ORANGE]]},
  {segs: [[SIIV1393_F1, C_CYAN_F], [SIIV1393_S1, C_CYAN]]},
  {segs: [[SIIV1402, C_CYAN]]},
  {segs: [[CIV1548, C_PURPLE]]},
  {segs: [[CIV1550, C_PURPLE]]}
];

// layout
const COL_LEFT = [11, 931], COL_W = 920, ROW_TOP = 9, ROW_H = 123.5;

const chart = echarts.init(document.getElementById('c'), null, {renderer: 'canvas'});
const grids = [], xAxes = [], yAxes = [], series = [], graphics = [];
const fmt = v => v < 0 ? '\u2212' + (-v) : String(v);
const axisLine = {show: true, onZero: false, lineStyle: {color: '#000', width: 1.6}};

PANELS.forEach((p, i) => {
  const col = i < 6 ? 0 : 1, row = i % 6;
  const top = ROW_TOP + row * ROW_H;
  grids.push({left: COL_LEFT[col], top: top, width: COL_W, height: ROW_H, containLabel: false});
  const xBase = {gridIndex: i, type: 'value', min: XMIN, max: XMAX, splitLine: {show: false}, axisLine: axisLine,
    axisTick: {show: true, inside: true, length: 9, lineStyle: {color: '#000', width: 1.6}, customValues: XTICKS}};
  xAxes.push(Object.assign({}, xBase, {position: 'bottom',
    axisLabel: {show: row === 5, customValues: XTICKS, formatter: fmt, fontFamily: SERIF, fontSize: 30, color: '#000', margin: 9}}));
  xAxes.push(Object.assign({}, xBase, {position: 'top', axisLabel: {show: false}}));
  const yBase = {gridIndex: i, type: 'value', min: YMIN, max: YMAX, splitLine: {show: false}, axisLine: axisLine,
    axisTick: {show: true, inside: true, length: 9, lineStyle: {color: '#000', width: 1.6}, customValues: YTICKS},
    axisLabel: {show: false}};
  yAxes.push(Object.assign({}, yBase, {position: 'left'}));
  yAxes.push(Object.assign({}, yBase, {position: 'right'}));

  const xi = 2 * i, yi = 2 * i;
  // reference lines
  series.push({type: 'line', xAxisIndex: xi, yAxisIndex: yi, data: [[0, 1]], showSymbol: false, silent: true,
    lineStyle: {opacity: 0}, z: 1,
    markLine: {silent: true, symbol: ['none', 'none'], label: {show: false}, z: 1, animation: false,
      data: [
        {yAxis: 1, lineStyle: {color: '#808080', width: 1.6, type: [20, 18]}},
        {yAxis: 0, lineStyle: {color: '#808080', width: 1.2, type: 'solid'}},
        {xAxis: 0, lineStyle: {color: '#c4c4c4', width: 1, type: 'solid'}}
      ]}});
  // tick marker
  series.push({type: 'line', xAxisIndex: xi, yAxisIndex: yi, data: [[0, 1]], showSymbol: false, silent: true,
    lineStyle: {opacity: 0}, z: 6,
    markLine: {silent: true, symbol: ['none', 'none'], label: {show: false}, z: 6, animation: false,
      data: [[{coord: [MARKER_V, MARKER_Y[0]], lineStyle: {color: '#000', width: 5, type: 'solid'}}, {coord: [MARKER_V, MARKER_Y[1]]}]]}});
  // model fill between model profile and continuum (polygon through axis coordinates)
  if (p.fill) {
    const fillData = p.fill;
    series.push({type: 'custom', xAxisIndex: xi, yAxisIndex: yi, data: fillData, silent: true, z: 2,
      encode: {x: 0, y: 1},
      renderItem: (params, api) => {
        if (params.dataIndex !== 0) return null;
        const lower = fillData.map(d => api.coord([d[0], d[1]]));
        const upper = fillData.slice().reverse().map(d => api.coord([d[0], 1]));
        return {type: 'polygon', shape: {points: lower.concat(upper)}, style: {fill: FILL_GRAY, stroke: null}};
      }});
  }
  // spectrum segments
  p.segs.forEach(([arr, color]) => {
    series.push({type: 'line', xAxisIndex: xi, yAxisIndex: yi, data: arr, showSymbol: false, symbol: 'none',
      silent: true, lineStyle: {color: color, width: LINE_W}, z: 3, clip: true});
  });
  // panel label
  graphics.push({type: 'text', x: COL_LEFT[col] + 27, y: top + 100, silent: true, z: 10,
    style: {text: LABELS[i], font: '38px ' + SERIF, fill: '#000', textAlign: 'left', textVerticalAlign: 'middle'}});
});

// x-axis title with superscript
const ctx = document.createElement('canvas').getContext('2d');
ctx.font = '37px ' + SERIF; const w1 = ctx.measureText(XTITLE[0]).width, w3 = ctx.measureText(XTITLE[2]).width;
ctx.font = '21px ' + SERIF; const w2 = ctx.measureText(XTITLE[1]).width;
const gap = 8;
const total = w1 + w2 + gap + w3;
const cx = 931, x0 = cx - total / 2;
graphics.push({type: 'text', x: x0, y: 827, silent: true, style: {text: XTITLE[0], font: '37px ' + SERIF, fill: '#000', textAlign: 'left', textVerticalAlign: 'middle'}});
graphics.push({type: 'text', x: x0 + w1 + 1, y: 816, silent: true, style: {text: XTITLE[1], font: '21px ' + SERIF, fill: '#000', textAlign: 'left', textVerticalAlign: 'middle'}});
graphics.push({type: 'text', x: x0 + w1 + w2 + gap, y: 827, silent: true, style: {text: XTITLE[2], font: '37px ' + SERIF, fill: '#000', textAlign: 'left', textVerticalAlign: 'middle'}});

chart.setOption({
  animation: false,
  backgroundColor: '#fff',
  grid: grids, xAxis: xAxes, yAxis: yAxes, series: series, graphic: graphics
});
</script></body></html>
